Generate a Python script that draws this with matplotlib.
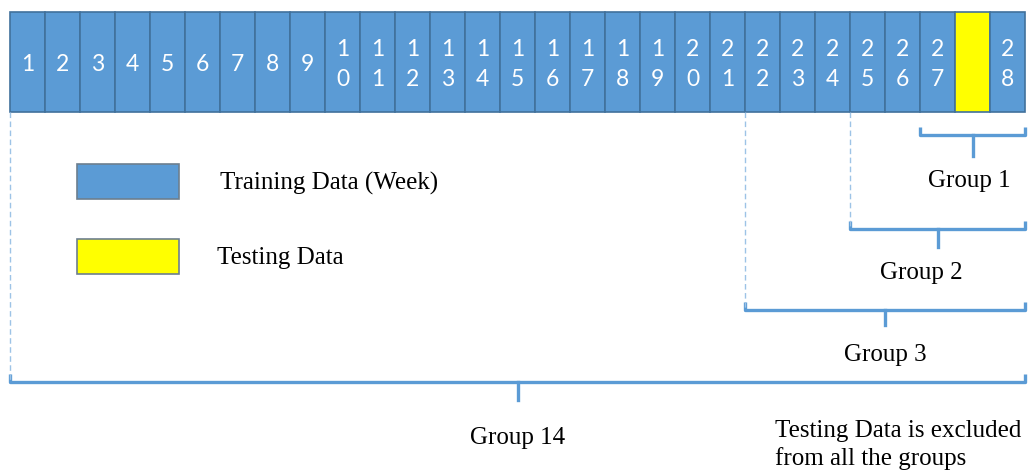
import matplotlib.pyplot as plt
from matplotlib.patches import Rectangle

# week cells, the testing slot sits between week 27 and week 28
slots = [str(w) for w in range(1, 28)] + ["test"] + ["28"]
groups = ["Group 1", "Group 2", "Group 3", "Group 14"]
group_start_week = [27, 25, 22, 1]   # each group runs to week 28
legend_labels = ["Training Data (Week)", "Testing Data"]
note = "Testing Data is excluded\nfrom all the groups"

blue = "#5B9BD5"
edge = "#41719C"
yellow = "#FFFF00"

fig = plt.figure(figsize=(10.28, 4.74), dpi=100)
ax = fig.add_axes([0, 0, 1, 1])
# x in cell units (cell 0 starts 10 px in, 35 px per cell), y in pixels
ax.set_xlim(-10 / 35, 1018 / 35)
ax.set_ylim(474, 0)
ax.axis("off")


def px(x):
    return (x - 10) / 35


# top strip of cells
for i, lab in enumerate(slots):
    fc = yellow if lab == "test" else blue
    ax.add_patch(Rectangle((i, 12), 1, 100, facecolor=fc, edgecolor=edge, lw=1.2))
    if lab == "test":
        continue
    if len(lab) == 1:
        ax.text(i + 0.5, 64, lab, color="white", ha="center", va="center",
                family="Lato", fontsize=16.5)
    else:
        ax.text(i + 0.5, 49, lab[0], color="white", ha="center", va="center",
                family="Lato", fontsize=16.5)
        ax.text(i + 0.5, 79, lab[1], color="white", ha="center", va="center",
                family="Lato", fontsize=16.5)

# brackets under the strip
bracket_y = [135, 229, 310, 382]
stem_len = [21, 18, 15, 18]
label_y = [181, 273, 355, 438]
label_dx = [-0.1, -0.45, 0, 0]
end = len(slots)
for g, wk, by, sl, ly, dx in zip(groups, group_start_week, bracket_y, stem_len, label_y, label_dx):
    start = slots.index(str(wk))
    ax.plot([start, start, end, end], [by - 8, by, by, by - 8], color=blue, lw=2.4,
            solid_joinstyle="round", solid_capstyle="butt")
    mid = (start + end) / 2
    ax.plot([mid, mid], [by, by + sl], color=blue, lw=2.4)
    ax.text(mid + dx, ly, g, ha="center", va="center", family="Liberation Serif",
            fontsize=18, color="black")
    if g != "Group 1":
        ax.plot([start, start], [112, by], color="#9DC3E6", lw=1.0, ls=(0, (4, 2.5)))

# legend boxes
leg_y = [164, 239]
text_x = [220, 217]
for lab, fc, y0, tx in zip(legend_labels, [blue, yellow], leg_y, text_x):
    ax.add_patch(Rectangle((px(77), y0), 102 / 35, 35, facecolor=fc, edgecolor="#6d7f8f", lw=1.2))
    ax.text(px(tx), y0 + 19, lab, ha="left", va="center", family="Liberation Serif",
            fontsize=18, color="black")

ax.text(px(775), 445, note, ha="left", va="center", family="Liberation Serif",
        fontsize=18, color="black", linespacing=1.3)

fig.savefig("out.png", dpi=100)
